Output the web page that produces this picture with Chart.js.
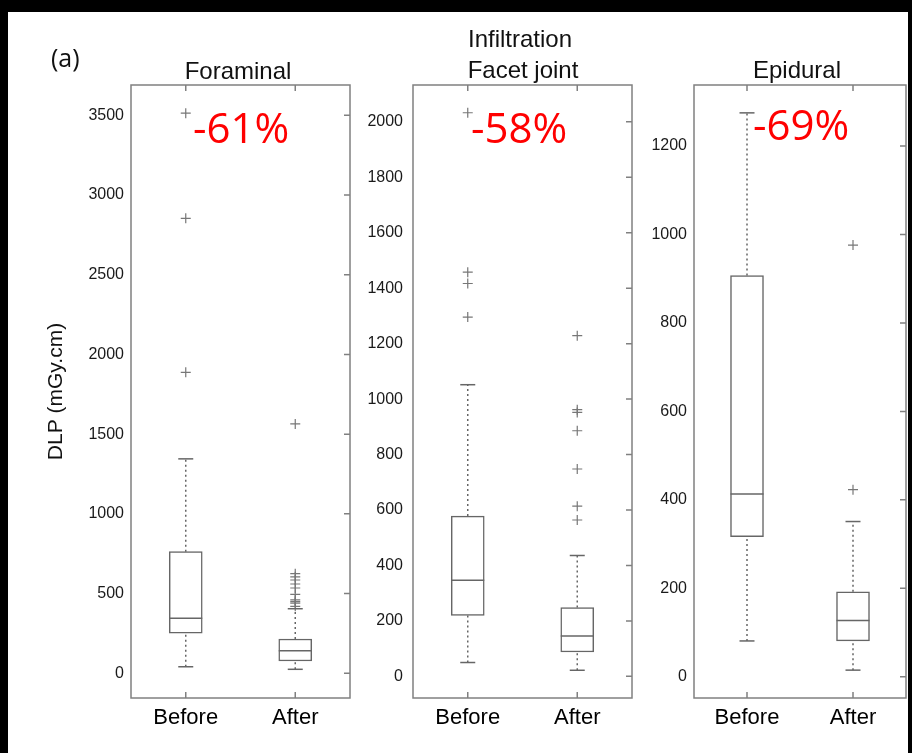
<!DOCTYPE html>
<html>
<head>
<meta charset="utf-8">
<script src="https://cdn.jsdelivr.net/npm/chart.js@4.4.1/dist/chart.umd.min.js"></script>
<style>
  html, body { margin: 0; padding: 0; background: #000; }
  body { width: 912px; height: 753px; position: relative; overflow: hidden; }
  #paper { position: absolute; left: 8px; top: 12px; width: 900px; height: 741px; background: #fff; }
  canvas { position: absolute; top: 12px; }
</style>
</head>
<body>
<div id="paper"></div>
<canvas id="foraminal" width="330" height="741" style="left:30px"></canvas>
<canvas id="facet" width="277" height="741" style="left:365px"></canvas>
<canvas id="epidural" width="267" height="741" style="left:645px"></canvas>
<script>
// groups on the x axis
const groups = ['Before', 'After'];

// each box: [lower whisker, Q1, median, Q3, upper whisker]
const foraminalBefore = [41, 251, 345, 763, 1345];
const foraminalAfter = [25, 77, 142, 215, 405];
const foraminalBeforeOut = [1888, 2854, 3513];
const foraminalAfterOut = [420, 440, 450, 460, 495, 535, 560, 585, 605, 625, 1564];

const facetBefore = [50, 220, 347, 578, 1052];
const facetAfter = [22, 88, 146, 248, 436];
const facetBeforeOut = [1296, 1417, 1458, 2033];
const facetAfterOut = [564, 614, 748, 886, 952, 962, 1229];

const epiduralBefore = [81, 317, 413, 907, 1275];
const epiduralAfter = [15, 81, 127, 192, 351];
const epiduralBeforeOut = [];
const epiduralAfterOut = [423, 976];

// y tick labels
const foraminalTicks = [0, 500, 1000, 1500, 2000, 2500, 3000, 3500];
const facetTicks = [0, 200, 400, 600, 800, 1000, 1200, 1400, 1600, 1800, 2000];
const epiduralTicks = [0, 200, 400, 600, 800, 1000, 1200];

const SANS = "'Liberation Sans', Arial, sans-serif";
const LINE = '#666';

function boxDatasets(boxes, outs) {
	let ds = [];
	// boxes go underneath everything else
	ds.push({
		type: 'bar',
		order: 10,
		data: boxes.map((b, i) => ({x: i + 1, y: [b[1], b[3]]})),
		backgroundColor: '#fff',
		borderColor: LINE,
		borderWidth: 1.5,
		borderSkipped: false,
		barThickness: 33,
	});
	boxes.forEach((b, i) => {
		// dotted whiskers
		[[b[3], b[4]], [b[0], b[1]]].forEach(seg => {
			ds.push({
				type: 'scatter',
				order: 5,
				showLine: true,
				data: [{x: i + 1, y: seg[0]}, {x: i + 1, y: seg[1]}],
				borderColor: LINE,
				borderWidth: 1.5,
				borderDash: [2, 3],
				pointRadius: 0,
			});
		});
	});
	// medians
	ds.push({
		type: 'scatter',
		data: boxes.map((b, i) => ({x: i + 1, y: b[2]})),
		pointStyle: 'line',
		pointRadius: 16.5,
		pointBorderWidth: 1.5,
		borderColor: LINE,
	});
	// whisker caps
	ds.push({
		type: 'scatter',
		data: boxes.flatMap((b, i) => [{x: i + 1, y: b[0]}, {x: i + 1, y: b[4]}]),
		pointStyle: 'line',
		pointRadius: 7.5,
		pointBorderWidth: 1.5,
		borderColor: LINE,
	});
	// outliers
	ds.push({
		type: 'scatter',
		data: outs.flatMap((o, i) => o.map(v => ({x: i + 1, y: v}))),
		pointStyle: 'cross',
		pointRadius: 5,
		pointBorderWidth: 1.2,
		borderColor: '#777',
	});
	return ds;
}

// frame with inward ticks on top, bottom and right
const frame = {
	id: 'frame',
	afterDatasetsDraw(chart) {
		const {ctx, chartArea: a, scales} = chart;
		ctx.save();
		ctx.strokeStyle = '#808080';
		ctx.lineWidth = 1.5;
		ctx.strokeRect(a.left, a.top, a.right - a.left, a.bottom - a.top);
		ctx.beginPath();
		scales.y.ticks.forEach(t => {
			const y = scales.y.getPixelForValue(t.value);
			ctx.moveTo(a.right, y); ctx.lineTo(a.right - 6, y);
		});
		scales.x.ticks.forEach(t => {
			const x = scales.x.getPixelForValue(t.value);
			ctx.moveTo(x, a.top); ctx.lineTo(x, a.top + 6);
			ctx.moveTo(x, a.bottom); ctx.lineTo(x, a.bottom - 6);
		});
		ctx.stroke();
		ctx.restore();
	}
};

function notes(items) {
	return {
		id: 'notes',
		afterDraw(chart) {
			const ctx = chart.ctx;
			items.forEach(n => {
				ctx.save();
				ctx.font = n.font;
				ctx.fillStyle = n.color || '#111';
				ctx.textAlign = n.align || 'center';
				ctx.textBaseline = 'alphabetic';
				ctx.fillText(n.text, n.x, n.y);
				ctx.restore();
			});
		}
	};
}

function makeChart(id, boxes, outs, o) {
	return new Chart(document.getElementById(id), {
		type: 'scatter',
		data: {datasets: boxDatasets(boxes, outs)},
		options: {
			responsive: false,
			animation: false,
			layout: {autoPadding: false, padding: {top: 73, right: o.right, left: 0, bottom: 0}},
			plugins: {legend: {display: false}, tooltip: {enabled: false}},
			scales: {
				x: {
					type: 'linear', min: 0.5, max: 2.5, offset: false,
					afterBuildTicks: s => { s.ticks = groups.map((g, i) => ({value: i + 1})); },
					afterFit: s => { s.height = 55; s.paddingLeft = 0; s.paddingRight = 0; },
					grid: {display: false, drawTicks: false},
					border: {display: false},
					ticks: {
						callback: v => groups[v - 1],
						padding: 7, color: '#000', autoSkip: false, maxRotation: 0,
						font: {family: SANS, size: 22}
					}
				},
				y: {
					min: o.min, max: o.max,
					afterBuildTicks: s => { s.ticks = o.ticks.map(v => ({value: v})); },
					afterFit: s => { s.width = o.yw; s.paddingTop = 0; s.paddingBottom = 0; },
					grid: {display: false, drawTicks: false},
					border: {display: false},
					ticks: {
						callback: v => String(v),
						padding: o.pad, color: '#1a1a1a', font: {family: SANS, size: 16}
					},
					title: {
						display: !!o.title, text: o.title, color: '#111',
						font: {family: SANS, size: 21},
						padding: {top: 14, bottom: 0}
					}
				}
			}
		},
		plugins: [frame, notes(o.notes)]
	});
}

makeChart('foraminal', [foraminalBefore, foraminalAfter], [foraminalBeforeOut, foraminalAfterOut], {
	min: -155, max: 3690, ticks: foraminalTicks, yw: 101, right: 10, pad: 7,
	title: 'DLP (mGy.cm)',
	notes: [
		{text: '(a)', x: 21, y: 55, font: "25px 'Open Sans'", align: 'left'},
		{text: 'Foraminal', x: 208, y: 67, font: "24px " + SANS},
		{text: '-61%', x: 163, y: 131, font: "42px 'Open Sans'", color: '#ff0000', align: 'left'},
	]
});

makeChart('facet', [facetBefore, facetAfter], [facetBeforeOut, facetAfterOut], {
	min: -78, max: 2133, ticks: facetTicks, yw: 48, right: 10, pad: 10,
	notes: [
		{text: 'Infiltration', x: 155, y: 35, font: "24px " + SANS},
		{text: 'Facet joint', x: 158, y: 66, font: "24px " + SANS},
		{text: '-58%', x: 106, y: 131, font: "42px 'Open Sans'", color: '#ff0000', align: 'left'},
	]
});

makeChart('epidural', [epiduralBefore, epiduralAfter], [epiduralBeforeOut, epiduralAfterOut], {
	min: -48, max: 1338, ticks: epiduralTicks, yw: 49, right: 6, pad: 7,
	notes: [
		{text: 'Epidural', x: 152, y: 66, font: "24px " + SANS},
		{text: '-69%', x: 108, y: 128, font: "42px 'Open Sans'", color: '#ff0000', align: 'left'},
	]
});
</script>
</body>
</html>
